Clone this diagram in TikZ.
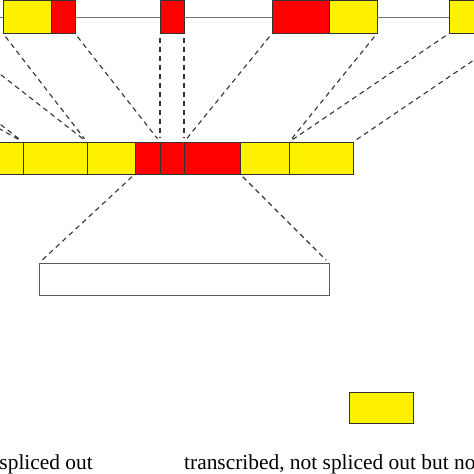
\documentclass[tikz,border=0pt]{standalone}
\usepackage{fontspec}
\setmainfont{Liberation Serif}
\usetikzlibrary{positioning}

\begin{document}
\begin{tikzpicture}[
  x=1pt, y=-1pt,
  box/.style={draw=black!80,line width=0.9pt,inner sep=0pt,outer sep=0pt,minimum height=33pt},
  utr/.style={box,fill=yellow},
  cds/.style={box,fill=red},
  intron/.style={draw=black!55,line width=1pt},
  link/.style={draw=black!80,line width=1.1pt,dash pattern=on 5pt off 4pt,shorten <=4pt,shorten >=4pt},
  legendtext/.style={font=\fontsize{21.4}{25}\selectfont,inner sep=0pt},
  node distance=0pt,
  ]
  \useasboundingbox (0,0) rectangle (474,474);
  \clip (0,0) rectangle (474,474);

  \node[utr, minimum width=64pt, anchor=west] (t0) at (-234,17) {};
  \node[utr, minimum width=64pt, right=54pt of t0] (t1) {};
  \node[utr, minimum width=48pt, right=55pt of t1] (t2) {};
  \node[cds, minimum width=24pt, right=of t2] (t3) {};
  \node[cds, minimum width=24pt, right=85pt of t3] (t4) {};
  \node[cds, minimum width=57pt, right=88pt of t4] (t5) {};
  \node[utr, minimum width=48pt, right=of t5] (t6) {};
  \node[utr, minimum width=64pt, right=72pt of t6] (t7) {};

  \node[utr, minimum width=64pt, minimum height=32pt, anchor=west] (m0) at (-41,158) {};
  \node[utr, minimum width=64pt, minimum height=32pt, right=of m0] (m1) {};
  \node[utr, minimum width=48pt, minimum height=32pt, right=of m1] (m2) {};
  \node[cds, minimum width=25pt, minimum height=32pt, right=of m2] (m3) {};
  \node[cds, minimum width=24pt, minimum height=32pt, right=of m3] (m4) {};
  \node[cds, minimum width=56pt, minimum height=32pt, right=of m4] (m5) {};
  \node[utr, minimum width=49pt, minimum height=32pt, right=of m5] (m6) {};
  \node[utr, minimum width=64pt, minimum height=32pt, right=of m6] (m7) {};

  \node[box, fill=white, draw=black!65, minimum width=290pt, minimum height=32pt, anchor=west] (orf) at (39,279) {};

  \node[utr, minimum width=64pt, minimum height=31pt] (key) at (381,407.5) {};
  \node[legendtext, anchor=base east] (lbl1) at (93,469) {spliced out};
  \node[legendtext, anchor=base west] (lbl2) at (184,469) {transcribed, not spliced out but not translated};

  \draw [intron] (t0) -- (t1);
  \draw [intron] (t1) -- (t2);
  \draw [intron] (t3) -- (t4);
  \draw [intron] (t4) -- (t5);
  \draw [intron] (t6) -- (t7);

  \draw [link] (t0.south east) -- (m1.north west);
  \draw [link] (t1.south west) -- (m1.north west);
  \draw [link] (t1.south east) -- (m2.north west);
  \draw [link] (t2.south west) -- (m2.north west);
  \draw [link] (t3.south east) -- (m4.north west);
  \draw [link] (t4.south west) -- (m4.north west);
  \draw [link] (t4.south east) -- (m5.north west);
  \draw [link] (t5.south west) -- (m5.north west);
  \draw [link] (t6.south east) -- (m7.north west);
  \draw [link] (t7.south west) -- (m7.north west);
  \draw [link] (t7.south east) -- (m7.north east);

  \draw [link] (m3.south west) -- (orf.north west);
  \draw [link] (m5.south east) -- (orf.north east);
\end{tikzpicture}
\end{document}
